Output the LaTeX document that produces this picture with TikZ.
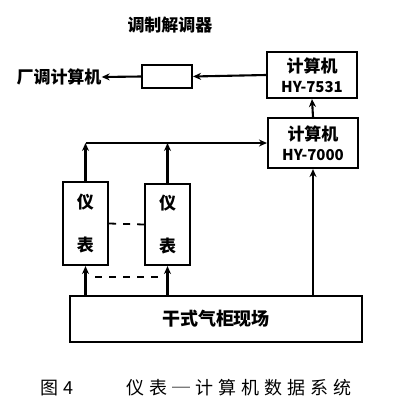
\documentclass[tikz,border=0pt]{standalone}
\usepackage{fontspec}
\newfontfamily\cjk{Noto Sans CJK SC}
\newfontfamily\cjkcap[LetterSpace=28]{Noto Sans CJK SC}
\usetikzlibrary{arrows.meta}
\tikzset{
  blk/.style={draw,line width=2.1pt,inner sep=0pt,font=\cjk\bfseries\fontsize{17}{21}\selectfont,align=center},
  lbl/.style={inner sep=0pt,font=\cjk\bfseries\fontsize{17}{21}\selectfont},
  sig/.style={line width=2.1pt,-{Stealth[length=8pt,width=7pt]}},
  dsh/.style={line width=1.8pt,dash pattern=on 7pt off 7pt}
}
\begin{document}
\begin{tikzpicture}[x=1pt,y=-1pt]
\useasboundingbox (0,0) rectangle (401,408);

% title and output
\node[lbl] (title) at (170,25) {调制解调器};
\node[lbl] (plant) at (59,77) {厂调计算机};

% boxes
\node[blk,minimum width=50pt,minimum height=23pt] (modem) at (167,76.5) {};
\node[blk,minimum width=90pt,minimum height=46pt] (hyA) at (312,75) {计算机\\[-1pt]{\fontsize{15}{18}\selectfont HY-7531}};
\node[blk,minimum width=90pt,minimum height=50pt] (hyB) at (313,143) {计算机\\[-1pt]{\fontsize{15}{18}\selectfont HY-7000}};
\node[blk,minimum width=45pt,minimum height=83pt] (instA) at (85.5,223.5) {仪\\[22pt]表};
\node[blk,minimum width=45pt,minimum height=81pt] (instB) at (167.5,224.5) {仪\\[22pt]表};
\node[blk,minimum width=292pt,minimum height=46pt,font=\cjk\bfseries\fontsize{18}{21}\selectfont] (field) at (216,319) {干式气柜现场};

% bus
\coordinate (busA) at (instA.north |- hyB.west);
\coordinate (busB) at (instB.north |- hyB.west);
\draw[line width=2.1pt] (busA) -- (busB);
\draw[sig] (busB) -- (hyB.west);
\draw[sig] (instA.north) -- (busA);
\draw[sig] (instB.north) -- (busB);

% links
\draw[sig] (hyA.west) -- (modem.east);
\draw[sig] (modem.west) -- (plant.east);
\draw[sig] (hyB.north) -- (hyA.south);
\draw[sig] (field.north -| hyB.south) -- (hyB.south);
\draw[sig] (field.north -| instA.south) -- (instA.south);
\draw[sig] (field.north -| instB.south) -- (instB.south);

% dashed
\draw[dsh] (instA.east) -- (instB.west);
\coordinate (dA) at (95,277);
\coordinate (dB) at (160,277);
\draw[dsh] (dA) -- (dB);

% caption
\node[inner sep=0pt,font=\cjk\fontsize{18}{21}\selectfont] (fig) at (57,388) {图\,\,4};
\node[inner sep=0pt,font=\cjkcap\fontsize{18}{21}\selectfont] (cap) at (239,388) {仪表─计算机数据系统};
\end{tikzpicture}
\end{document}
